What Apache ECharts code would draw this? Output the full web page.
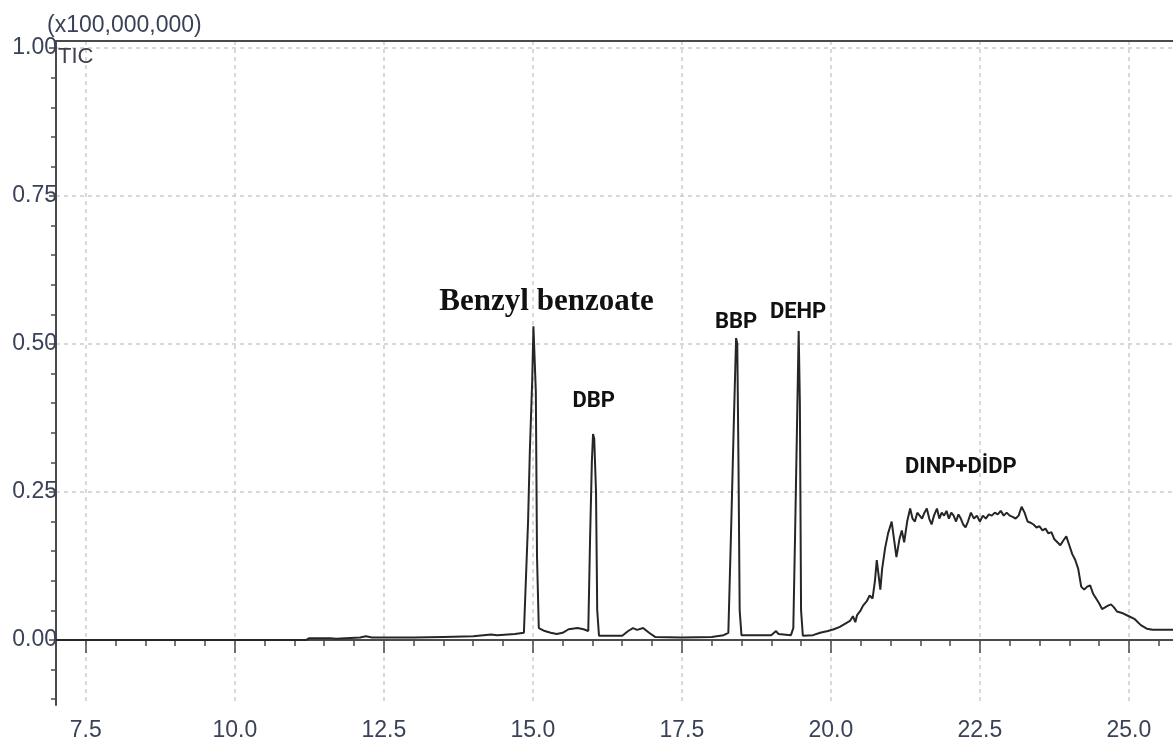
<!DOCTYPE html>
<html>
<head>
<meta charset="utf-8">
<script src="https://cdn.jsdelivr.net/npm/echarts@6/dist/echarts.min.js"></script>
<style>
html,body{margin:0;padding:0;background:#fff;}
#chart{width:1173px;height:749px;}
</style>
</head>
<body>
<div id="chart"></div>
<script>
// Retention time (min) and TIC intensity (x100,000,000)
const rt = [7.0,11.2,11.25,11.6,11.7,12.1,12.2,12.3,13.0,13.5,14.0,14.3,14.4,14.7,14.85,
  14.88,14.92,14.95,14.99,15.01,15.03,15.05,15.07,15.10,15.2,15.3,15.4,15.5,15.6,15.75,15.85,
  15.93,15.96,15.99,16.01,16.03,16.06,16.08,16.11,16.5,16.6,16.68,16.75,16.85,16.95,17.05,17.5,18.0,18.2,18.28,
  18.33,18.37,18.41,18.43,18.45,18.47,18.5,19.0,19.08,19.12,19.33,
  19.37,19.40,19.43,19.46,19.48,19.50,19.53,19.7,19.82,19.95,20.05,20.15,20.25,20.32,20.37,20.41,20.44,20.5,20.54,20.6,20.65,20.7,20.74,20.77,20.8,20.83,20.86,20.91,20.96,21.02,21.06,21.1,21.15,21.19,21.23,21.28,21.33,21.37,21.41,21.45,21.49,21.53,21.57,21.61,21.65,21.69,21.73,21.78,21.82,21.86,21.9,21.94,21.98,22.02,22.06,22.1,22.14,22.18,22.22,22.26,22.3,22.35,22.4,22.45,22.5,22.55,22.6,22.65,22.7,22.75,22.8,22.85,22.9,22.95,23.0,23.05,23.1,23.15,23.2,23.25,23.3,23.35,23.4,23.45,23.5,23.55,23.6,23.65,23.7,23.75,23.8,23.85,23.9,23.95,24.0,24.05,24.1,24.15,24.2,24.25,24.3,24.35,24.4,24.45,24.5,24.55,24.6,24.65,24.7,24.75,24.8,24.9,25.0,25.1,25.2,25.3,25.4,25.74];
const tic = [0,0,0.003,0.003,0.002,0.004,0.006,0.004,0.004,0.005,0.006,0.009,0.008,0.010,0.012,
  0.012,0.20,0.32,0.44,0.53,0.53,0.42,0.14,0.02,0.015,0.012,0.010,0.012,0.018,0.02,0.018,
  0.015,0.17,0.30,0.348,0.34,0.25,0.05,0.007,0.007,0.015,0.02,0.017,0.02,0.012,0.005,0.004,0.005,0.008,0.012,
  0.20,0.36,0.51,0.50,0.30,0.05,0.008,0.008,0.015,0.01,0.008,
  0.02,0.18,0.35,0.522,0.40,0.05,0.007,0.008,0.012,0.015,0.018,0.022,0.028,0.032,0.04,0.03,0.042,0.05,0.058,0.065,0.075,0.07,0.10,0.135,0.11,0.085,0.12,0.155,0.18,0.20,0.17,0.14,0.17,0.185,0.165,0.20,0.222,0.205,0.20,0.215,0.21,0.205,0.215,0.222,0.205,0.195,0.21,0.222,0.205,0.215,0.21,0.218,0.205,0.215,0.21,0.2,0.212,0.205,0.195,0.19,0.2,0.215,0.205,0.21,0.2,0.21,0.205,0.212,0.21,0.215,0.212,0.218,0.21,0.215,0.21,0.208,0.205,0.21,0.225,0.215,0.2,0.198,0.195,0.19,0.192,0.185,0.188,0.18,0.182,0.17,0.165,0.16,0.168,0.175,0.16,0.145,0.135,0.12,0.09,0.085,0.09,0.092,0.078,0.07,0.062,0.052,0.055,0.058,0.06,0.055,0.048,0.045,0.04,0.035,0.025,0.019,0.017,0.017];

const xMajorTicks = [7.5,10.0,12.5,15.0,17.5,20.0,22.5,25.0];
const xMinorTicks = [7.0,7.5,8.0,8.5,9.0,9.5,10.0,10.5,11.0,11.5,12.0,12.5,13.0,13.5,14.0,14.5,15.0,15.5,16.0,16.5,17.0,17.5,18.0,18.5,19.0,19.5,20.0,20.5,21.0,21.5,22.0,22.5,23.0,23.5,24.0,24.5,25.0,25.5];
const yMajorTicks = [0.00,0.25,0.50,0.75,1.00];
const yMinorTicks = [-0.10,-0.05,0.00,0.05,0.10,0.15,0.20,0.25,0.30,0.35,0.40,0.45,0.50,0.55,0.60,0.65,0.70,0.75,0.80,0.85,0.90,0.95,1.00];

const peakNames = ['Benzyl benzoate','DBP','BBP','DEHP','DINP+DİDP'];
const peakLabelX = [15.23,16.02,18.41,19.45,22.18];
const peakLabelY = [0.571,0.402,0.537,0.554,0.291];

const X_MIN = 7.0, X_MAX = 25.74, Y_MIN = -0.11, Y_MAX = 1.012;
const axisColor = '#4a4a4a';
const textColor = '#3a4258';
const gridLine = {show:true, lineStyle:{color:'#cccccc', width:1.5, type:[4,4]}};

const chart = echarts.init(document.getElementById('chart'), null, {renderer:'canvas'});
const sansFont = "'Liberation Sans', Arial, sans-serif";
const labelFont = "Roboto, 'Liberation Sans', sans-serif";

chart.setOption({
  animation:false,
  backgroundColor:'#ffffff',
  title:[
    {text:'(x100,000,000)', left:42, top:9, textStyle:{fontFamily:sansFont, fontSize:23, fontWeight:'normal', color:textColor}},
    {text:'TIC', left:53, top:41, textStyle:{fontFamily:sansFont, fontSize:22, fontWeight:'normal', color:'#40404e'}}
  ],
  grid:{left:56, right:0, top:41, bottom:44},
  xAxis:[
    {type:'value', min:X_MIN, max:X_MAX, position:'bottom',
      axisLine:{show:true, lineStyle:{color:axisColor, width:2}},
      axisTick:{show:true, customValues:xMinorTicks, length:6, lineStyle:{color:axisColor, width:1.5}},
      axisLabel:{show:false}, splitLine:{show:false}},
    {type:'value', min:X_MIN, max:X_MAX, position:'bottom',
      axisLine:{show:false},
      axisTick:{show:true, customValues:xMajorTicks, length:13, lineStyle:{color:axisColor, width:1.5}},
      axisLabel:{show:true, customValues:xMajorTicks, margin:14, fontFamily:sansFont, fontSize:23, color:textColor, formatter:v=>v.toFixed(1)},
      splitLine:gridLine},
    {type:'value', min:X_MIN, max:X_MAX, position:'top',
      axisLine:{show:true, lineStyle:{color:axisColor, width:2}},
      axisTick:{show:false}, axisLabel:{show:false}, splitLine:{show:false}}
  ],
  yAxis:[
    {type:'value', min:Y_MIN, max:Y_MAX, position:'left',
      axisLine:{show:true, lineStyle:{color:axisColor, width:2}},
      axisTick:{show:true, customValues:yMinorTicks, length:5, lineStyle:{color:axisColor, width:1.5}},
      axisLabel:{show:false}, splitLine:{show:false}},
    {type:'value', min:Y_MIN, max:Y_MAX, position:'left',
      axisLine:{show:false},
      axisTick:{show:true, customValues:yMajorTicks, length:7, lineStyle:{color:axisColor, width:1.5}},
      axisLabel:{show:true, customValues:yMajorTicks, margin:-1, fontFamily:sansFont, fontSize:23, color:textColor, formatter:v=>v.toFixed(2)},
      splitLine:gridLine}
  ],
  series:[{
    type:'line', xAxisIndex:0, yAxisIndex:0,
    data: rt.map((t,i)=>[t, tic[i]]),
    symbol:'none', lineStyle:{color:'#262626', width:2}, z:5,
    markPoint:{
      symbol:'circle', symbolSize:1, itemStyle:{color:'rgba(0,0,0,0)'},
      data: peakNames.map((n,i)=>({
        name:n, coord:[peakLabelX[i], peakLabelY[i]],
        label: i===0
          ? {show:true, position:'inside', formatter:'{b}', fontFamily:"'Liberation Serif','Times New Roman',serif", fontWeight:'bold', fontSize:31, color:'#111'}
          : {show:true, position:'inside', formatter:'{b}', fontFamily:labelFont, fontWeight:'bold', fontSize:22, color:'#111'}
      }))
    }
  }]
});
</script>
</body>
</html>
